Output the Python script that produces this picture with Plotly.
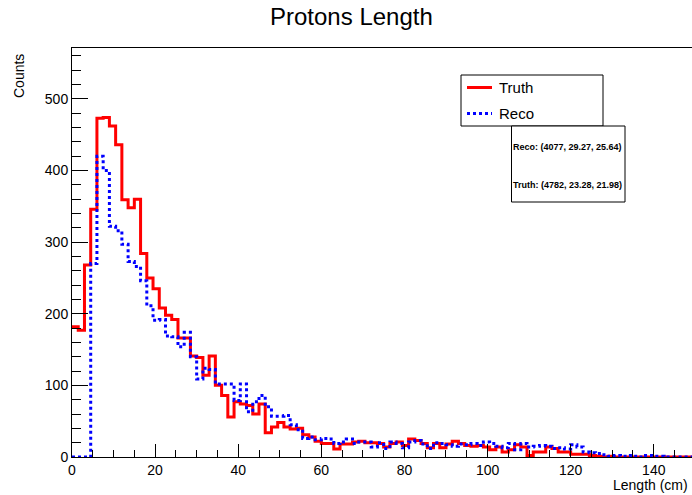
import numpy as np
import plotly.graph_objects as go

# ---- data (bin width 1.5 cm, 100 bins from 0 to 150 cm) ----
bin_width = 1.5
n_bins = 100
truth_counts = [
    182, 177, 268, 346, 473, 474, 462, 436, 359, 348,
    360, 284, 250, 235, 208, 198, 192, 166, 166, 141,
    139, 114, 141, 100, 86, 56, 77, 74, 72, 60,
    74, 34, 42, 48, 42, 39, 40, 31, 28, 22,
    19, 19, 11, 18, 18, 21, 22, 20, 20, 19,
    14, 19, 21, 16, 25, 23, 19, 13, 19, 13,
    18, 22, 19, 16, 15, 16, 14, 10, 14, 7,
    10, 17, 14, 2, 7, 7, 14, 12, 7, 7,
    4, 4, 4, 2, 1, 0, 1, 0, 0, 0,
    0, 0, 0, 0, 0, 0, 0, 0, 0, 0,
]
reco_counts = [
    0, 0, 0, 270, 420, 400, 322, 316, 297, 273,
    266, 246, 211, 191, 192, 169, 168, 154, 174, 140,
    109, 124, 122, 102, 102, 102, 79, 102, 63, 77,
    86, 70, 57, 57, 58, 45, 38, 26, 28, 24,
    26, 25, 19, 21, 25, 19, 21, 21, 14, 20,
    12, 21, 19, 13, 21, 23, 18, 12, 20, 19,
    17, 15, 18, 17, 19, 16, 21, 19, 15, 13,
    19, 10, 19, 14, 15, 16, 15, 12, 13, 11,
    17, 14, 7, 6, 5, 3, 1, 2, 1, 2,
    1, 0, 2, 1, 1, 0, 0, 0, 0, 0,
]
series_names = ["Truth", "Reco"]
stats_text = ["Reco: (4077, 29.27, 25.64)", "Truth: (4782, 23.28, 21.98)"]
x_ticks = [0, 20, 40, 60, 80, 100, 120, 140]
y_ticks = [0, 100, 200, 300, 400, 500]

edges = np.arange(n_bins + 1) * bin_width

def step_y(vals):
    return list(vals) + [vals[-1]]

FONT = "Liberation Sans, Arial, Helvetica, sans-serif"
W, H = 692, 495
L, R, T, B = 72, 0, 48, 38
PW, PH = W - L - R, H - T - B

def px(x):
    return (x - L) / PW

def py(y):
    return (H - B - y) / PH

fig = go.Figure()
fig.add_trace(go.Scatter(x=edges, y=step_y(truth_counts), mode="lines",
                         line=dict(shape="hv", color="#ff0000", width=3),
                         name=series_names[0], showlegend=False))
fig.add_trace(go.Scatter(x=edges, y=step_y(reco_counts), mode="lines",
                         line=dict(shape="hv", color="#0000ff", width=3, dash="dot"),
                         name=series_names[1], showlegend=False))

fig.update_layout(
    width=W, height=H,
    margin=dict(l=L, r=R, t=T, b=B, pad=0),
    paper_bgcolor="white", plot_bgcolor="white",
    font=dict(family=FONT, color="black", size=14),
    showlegend=False,
)
fig.update_xaxes(range=[0, 149.2], showline=True, linecolor="black", linewidth=1,
                 mirror=True, showgrid=False, zeroline=False,
                 ticks="inside", ticklen=13, tickcolor="black", tickwidth=1,
                 tickvals=x_ticks, ticktext=[str(v) for v in x_ticks],
                 tickfont=dict(size=14, family=FONT),
                 minor=dict(ticks="inside", ticklen=7, dtick=5, tick0=0,
                            tickcolor="black", showgrid=False))
fig.update_yaxes(range=[0, 571], showline=True, linecolor="black", linewidth=1,
                 mirror=True, showgrid=False, zeroline=False,
                 ticks="inside", ticklen=16, tickcolor="black", tickwidth=1,
                 tickvals=y_ticks, ticktext=[str(v) for v in y_ticks],
                 tickfont=dict(size=14, family=FONT),
                 minor=dict(ticks="inside", ticklen=9, dtick=20, tick0=0,
                            tickcolor="black", showgrid=False))

shapes = []
ann = []
# Title
ann.append(dict(text="Protons Length", x=px(351), y=py(17), xref="paper", yref="paper",
                showarrow=False, xanchor="center", yanchor="middle",
                font=dict(size=24, family=FONT)))
# Axis titles
ann.append(dict(text="Length (cm)", x=px(690), y=py(485), xref="paper", yref="paper",
                showarrow=False, xanchor="right", yanchor="middle",
                font=dict(size=14, family=FONT)))
ann.append(dict(text="Counts", x=px(19), y=py(52), xref="paper", yref="paper",
                showarrow=False, xanchor="center", yanchor="top", textangle=-90,
                font=dict(size=14, family=FONT)))

# Legend box
shapes.append(dict(type="rect", xref="paper", yref="paper",
                   x0=px(461), x1=px(603), y0=py(126), y1=py(75),
                   line=dict(color="black", width=1), fillcolor="white", layer="above"))
shapes.append(dict(type="line", xref="paper", yref="paper",
                   x0=px(467), x1=px(492), y0=py(87.5), y1=py(87.5),
                   line=dict(color="#ff0000", width=3), layer="above"))
shapes.append(dict(type="line", xref="paper", yref="paper",
                   x0=px(467), x1=px(492), y0=py(113.5), y1=py(113.5),
                   line=dict(color="#0000ff", width=3, dash="dot"), layer="above"))
ann.append(dict(text=series_names[0], x=px(497), y=py(87.5), xref="paper", yref="paper",
                showarrow=False, xanchor="left", yanchor="middle",
                font=dict(size=15, family=FONT)))
ann.append(dict(text=series_names[1], x=px(497), y=py(113.5), xref="paper", yref="paper",
                showarrow=False, xanchor="left", yanchor="middle",
                font=dict(size=15, family=FONT)))

# Stats box
shapes.append(dict(type="rect", xref="paper", yref="paper",
                   x0=px(511.5), x1=px(625), y0=py(202), y1=py(126),
                   line=dict(color="black", width=1), fillcolor="white", layer="above"))
ann.append(dict(text="<b>" + stats_text[0] + "</b>", x=px(567), y=py(147), xref="paper", yref="paper",
                showarrow=False, xanchor="center", yanchor="middle",
                font=dict(size=9, family=FONT)))
ann.append(dict(text="<b>" + stats_text[1] + "</b>", x=px(567), y=py(185), xref="paper", yref="paper",
                showarrow=False, xanchor="center", yanchor="middle",
                font=dict(size=9, family=FONT)))

fig.update_layout(shapes=shapes, annotations=ann)
fig.write_html("out.html")
